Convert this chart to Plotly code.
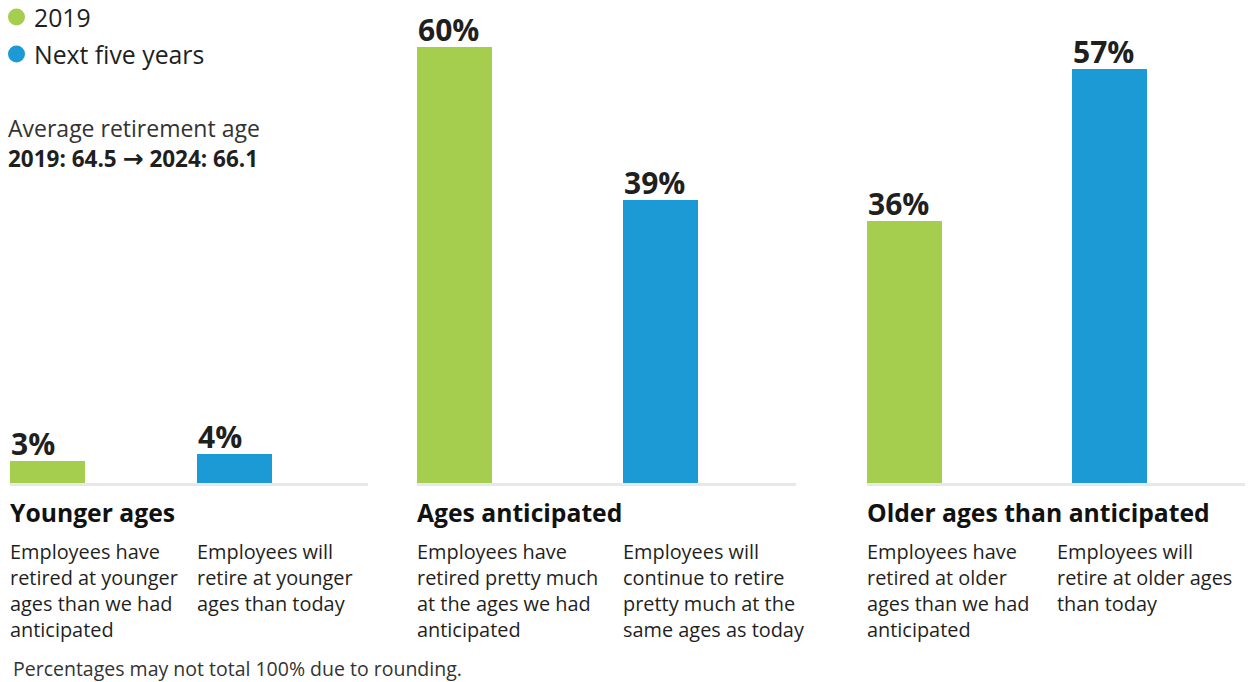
import plotly.graph_objects as go

W, H = 1249, 682

groups = ["Younger ages", "Ages anticipated", "Older ages than anticipated"]
series = ["2019", "Next five years"]
values_2019 = [3, 60, 36]
values_next = [4, 39, 57]
desc_2019 = [
    "Employees have<br>retired at younger<br>ages than we had<br>anticipated",
    "Employees have<br>retired pretty much<br>at the ages we had<br>anticipated",
    "Employees have<br>retired at older<br>ages than we had<br>anticipated",
]
desc_next = [
    "Employees will<br>retire at younger<br>ages than today",
    "Employees will<br>continue to retire<br>pretty much at the<br>same ages as today",
    "Employees will<br>retire at older ages<br>than today",
]
note_title = "Average retirement age"
note_from = "2019: 64.5"
note_to = "2024: 66.1"
footnote = "Percentages may not total 100% due to rounding."

GREEN = "#a5cd4e"
BLUE = "#1b9ad6"
DARK = "#1f1f1f"
FONT = "Open Sans"

# layout (pixels)
dom_px = [(10, 368), (417, 796), (867, 1245)]
green_c = [47.5, 454.5, 904.5]
spacing = [187, 206, 205]
bar_px = 75
base_y = 483
px_per_pct = 7.265
desc2_x = [197, 623, 1057]

fig = go.Figure()
layout_axes = {}
ann = []
for i in range(3):
    sfx = "" if i == 0 else str(i + 1)
    l, r = dom_px[i]
    s = spacing[i]
    x0 = (l - green_c[i]) / s
    x1 = (r - green_c[i]) / s
    vals = [values_2019[i], values_next[i]]
    fig.add_trace(go.Bar(
        x=series, y=vals,
        marker=dict(color=[GREEN, BLUE], line=dict(width=0)),
        width=bar_px / s,
        xaxis="x" + sfx, yaxis="y" + sfx, showlegend=False, hoverinfo="skip",
    ))
    for j in range(2):
        # category index j on the category axis
        ann.append(dict(x=j, y=vals[j], xref="x" + sfx, yref="y" + sfx,
                        xanchor="left", yanchor="bottom", xshift=-bar_px / 2, yshift=-4,
                        showarrow=False, borderpad=0, text=f"<b>{vals[j]}%</b>",
                        font=dict(family=FONT, size=30, color=DARK)))
    layout_axes["xaxis" + sfx] = dict(
        domain=[l / W, r / W], type="category", range=[x0, x1],
        categoryorder="array", categoryarray=series,
        showticklabels=False, showgrid=False, zeroline=False,
        showline=True, linecolor="#e6e8ea", linewidth=3,
        anchor="y" + sfx, fixedrange=True,
    )
    layout_axes["yaxis" + sfx] = dict(
        domain=[(H - base_y) / H, 1], range=[0, base_y / px_per_pct],
        visible=False, anchor="x" + sfx, fixedrange=True,
    )

# group headings and descriptions
for i in range(3):
    ann.append(dict(x=dom_px[i][0] / W, y=1 - 512 / H, xref="paper", yref="paper",
                    xanchor="left", yanchor="middle", showarrow=False, borderpad=0, xshift=-1,
                    text=f"<b>{groups[i]}</b>", align="left",
                    font=dict(family=FONT, size=24.7, color="#111111")))
    ann.append(dict(x=dom_px[i][0] / W, y=1 - 537 / H, xref="paper", yref="paper",
                    xanchor="left", yanchor="top", showarrow=False, borderpad=0, xshift=-1,
                    text=desc_2019[i], align="left",
                    font=dict(family=FONT, size=19.9, color=DARK)))
    ann.append(dict(x=desc2_x[i] / W, y=1 - 537 / H, xref="paper", yref="paper",
                    xanchor="left", yanchor="top", showarrow=False, borderpad=0, xshift=-1,
                    text=desc_next[i], align="left",
                    font=dict(family=FONT, size=19.9, color=DARK)))

# legend
leg_y = [17, 54]
leg_col = [GREEN, BLUE]
shapes = []
for j in range(2):
    shapes.append(dict(type="circle", xref="paper", yref="paper",
                       x0=8 / W, x1=25 / W, y0=1 - (leg_y[j] + 8.5) / H, y1=1 - (leg_y[j] - 8.5) / H,
                       fillcolor=leg_col[j], line=dict(width=0)))
    ann.append(dict(x=33 / W, y=1 - leg_y[j] / H, xref="paper", yref="paper",
                    xanchor="left", yanchor="middle", showarrow=False, borderpad=0,
                    text=series[j], font=dict(family=FONT, size=24.8, color=DARK)))

# average retirement age note
ann.append(dict(x=7 / W, y=1 - 127.5 / H, xref="paper", yref="paper",
                xanchor="left", yanchor="middle", showarrow=False, borderpad=0,
                text=note_title, font=dict(family=FONT, size=23, color="#333333")))
ann.append(dict(x=7 / W, y=1 - 158 / H, xref="paper", yref="paper",
                xanchor="left", yanchor="middle", showarrow=False, borderpad=0,
                text=(f"<b>{note_from} <span style='font-family:DejaVu Sans;font-size:25px'>"
                      f"\u2192</span> {note_to}</b>"),
                font=dict(family=FONT, size=22.5, color=DARK)))
ann.append(dict(x=12 / W, y=1 - 668 / H, xref="paper", yref="paper",
                xanchor="left", yanchor="middle", showarrow=False, borderpad=0,
                text=footnote, font=dict(family=FONT, size=19.5, color="#333333")))

fig.update_layout(
    width=W, height=H, margin=dict(l=0, r=0, t=0, b=0),
    paper_bgcolor="white", plot_bgcolor="white",
    annotations=ann, shapes=shapes, bargap=0,
    **layout_axes,
)

fig.write_html("out.html", config={"displayModeBar": False})
